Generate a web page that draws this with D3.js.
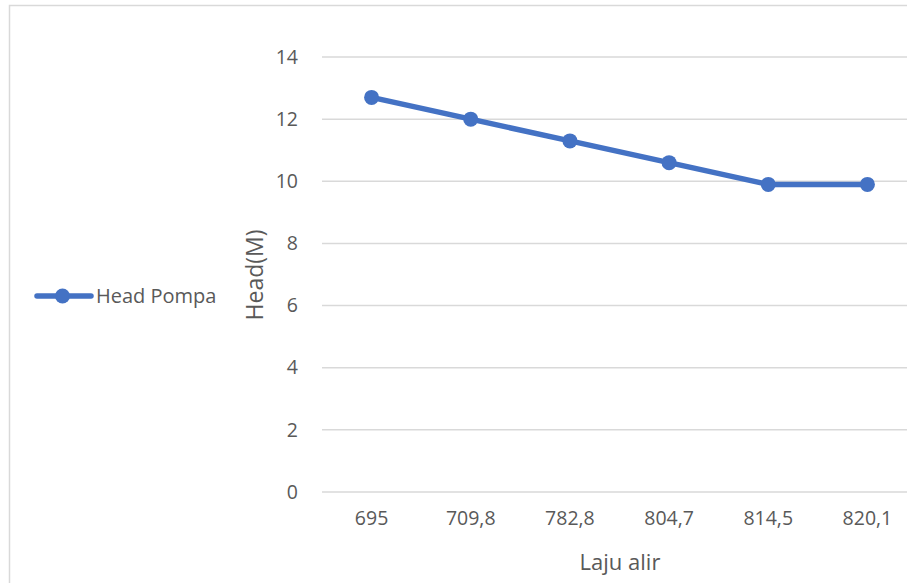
<!DOCTYPE html>
<html>
<head>
<meta charset="utf-8">
<script src="https://cdn.jsdelivr.net/npm/d3@7"></script>
<style>
  html, body { margin: 0; padding: 0; background: #fff; }
  svg { display: block; }
  text { font-family: "Open Sans", "Liberation Sans", sans-serif; fill: #595959; }
</style>
</head>
<body>
<svg id="chart" width="907" height="583"></svg>
<script>
// Flow rate categories and measured pump head
const categories = ["695", "709,8", "782,8", "804,7", "814,5", "820,1"];
const headPompa = [12.7, 12.0, 11.3, 10.6, 9.9, 9.9];
const yTicks = [0, 2, 4, 6, 8, 10, 12, 14];
const seriesName = "Head Pompa";
const xTitle = "Laju alir";
const yTitle = "Head(M)";

const color = "#4472C4";
const svg = d3.select("#chart");

// Outer chart frame
svg.append("rect")
  .attr("x", 9.5).attr("y", 5.5)
  .attr("width", 920).attr("height", 600)
  .attr("fill", "none").attr("stroke", "#d9d9d9").attr("stroke-width", 1.5);

const plot = { left: 322, right: 917, top: 57, bottom: 492 };

const x = d3.scaleBand().domain(categories).range([plot.left, plot.right]);
const y = d3.scaleLinear().domain([0, 14]).range([plot.bottom, plot.top]);

// Horizontal gridlines
svg.append("g")
  .selectAll("line")
  .data(yTicks)
  .join("line")
  .attr("x1", plot.left).attr("x2", plot.right)
  .attr("y1", d => y(d)).attr("y2", d => y(d))
  .attr("stroke", "#d9d9d9").attr("stroke-width", 1.5);

// Y axis tick labels
const yAxis = d3.axisLeft(y).tickValues(yTicks).tickSize(0).tickPadding(0);
svg.append("g")
  .attr("transform", "translate(298,0)")
  .call(yAxis)
  .call(g => g.select(".domain").remove())
  .call(g => g.selectAll("text")
    .attr("font-size", 19.5).attr("fill", "#595959")
    .style("font-family", "'Open Sans', sans-serif"));

// X axis category labels
const xAxis = d3.axisBottom(x).tickSize(0).tickPadding(0);
svg.append("g")
  .attr("transform", "translate(0,511)")
  .call(xAxis)
  .call(g => g.select(".domain").remove())
  .call(g => g.selectAll("text")
    .attr("font-size", 19.5).attr("fill", "#595959")
    .style("font-family", "'Open Sans', sans-serif"));

// Axis titles
svg.append("text")
  .attr("x", 620).attr("y", 570)
  .attr("text-anchor", "middle")
  .attr("font-size", 22)
  .text(xTitle);

svg.append("text")
  .attr("transform", "translate(263,275) rotate(-90)")
  .attr("text-anchor", "middle")
  .attr("font-size", 23)
  .text(yTitle);

// Series line and markers
const line = d3.line()
  .x((d, i) => x(categories[i]) + x.bandwidth() / 2)
  .y(d => y(d));

svg.append("path")
  .datum(headPompa)
  .attr("d", line)
  .attr("fill", "none")
  .attr("stroke", color)
  .attr("stroke-width", 5.5)
  .attr("stroke-linejoin", "round");

svg.append("g")
  .selectAll("circle")
  .data(headPompa)
  .join("circle")
  .attr("cx", (d, i) => x(categories[i]) + x.bandwidth() / 2)
  .attr("cy", d => y(d))
  .attr("r", 7.5)
  .attr("fill", color);

// Legend
const legend = svg.append("g").attr("transform", "translate(37,296)");
legend.append("line")
  .attr("x1", 0).attr("x2", 54).attr("y1", 0).attr("y2", 0)
  .attr("stroke", color).attr("stroke-width", 5.5).attr("stroke-linecap", "round");
legend.append("circle").attr("cx", 25.5).attr("cy", 0).attr("r", 7.5).attr("fill", color);
legend.append("text")
  .attr("x", 59).attr("y", 0).attr("dy", "0.35em")
  .attr("font-size", 20)
  .text(seriesName);
</script>
</body>
</html>
